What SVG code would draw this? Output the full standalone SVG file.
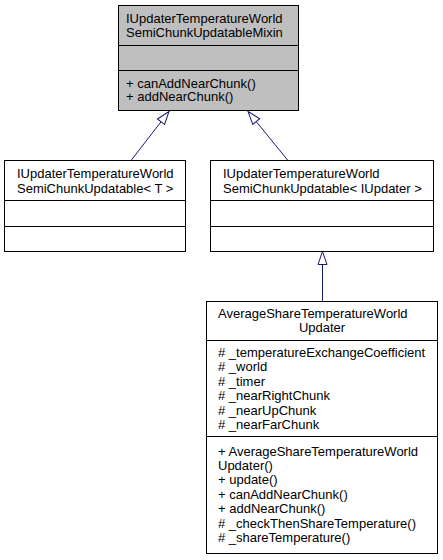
<svg xmlns="http://www.w3.org/2000/svg" width="443" height="560" viewBox="0 0 443 560">
<style>
.box{fill:#ffffff;stroke:#000000;stroke-width:1}
.hl{fill:#bfbfbf}
.div{stroke:#000000;stroke-width:1;fill:none}
text{font-family:"Liberation Sans",Arial,Helvetica,sans-serif;font-size:13px;fill:#000000}
.edge{stroke:#191970;stroke-width:1;fill:none}
</style>
<defs>
<marker id="inh" viewBox="0 0 14 10" refX="13.5" refY="5" markerWidth="14" markerHeight="10" markerUnits="userSpaceOnUse" orient="auto" overflow="visible">
<path d="M0.5,0.5 L13.5,5 L0.5,9.5 Z" fill="#ffffff" stroke="#191970" stroke-width="1"/>
</marker>
</defs>
<rect width="443" height="560" fill="#ffffff"/>
<g id="connectors">
<path class="edge" d="M131,160.5 L169,111.5" marker-end="url(#inh)"/>
<path class="edge" d="M288,160.5 L248,111.5" marker-end="url(#inh)"/>
<path class="edge" d="M322.5,301 L322.5,251.5" marker-end="url(#inh)"/>
</g>
<g id="node-mixin">
<rect class="box hl" x="118.5" y="5.5" width="180" height="105"/>
<line class="div" x1="118.5" y1="45.5" x2="298.5" y2="45.5"/>
<line class="div" x1="118.5" y1="70.5" x2="298.5" y2="70.5"/>
<text x="126" y="22.5">IUpdaterTemperatureWorld</text>
<text x="126" y="36.5">SemiChunkUpdatableMixin</text>
<text x="126" y="87.5">+ canAddNearChunk()</text>
<text x="126" y="101">+ addNearChunk()</text>
</g>
<g id="node-updatable-t">
<rect class="box" x="4.5" y="160.5" width="181" height="91"/>
<line class="div" x1="4.5" y1="200.5" x2="185.5" y2="200.5"/>
<line class="div" x1="4.5" y1="226.5" x2="185.5" y2="226.5"/>
<text x="17" y="178">IUpdaterTemperatureWorld</text>
<text x="17" y="192.5">SemiChunkUpdatable&lt; T &gt;</text>
</g>
<g id="node-updatable-iupdater">
<rect class="box" x="210.5" y="160.5" width="223" height="91"/>
<line class="div" x1="210.5" y1="200.5" x2="433.5" y2="200.5"/>
<line class="div" x1="210.5" y1="226.5" x2="433.5" y2="226.5"/>
<text x="223" y="178">IUpdaterTemperatureWorld</text>
<text x="223" y="192.5">SemiChunkUpdatable&lt; IUpdater &gt;</text>
</g>
<g id="node-average">
<rect class="box" x="206.5" y="301.5" width="231" height="252"/>
<line class="div" x1="206.5" y1="340.5" x2="437.5" y2="340.5"/>
<line class="div" x1="206.5" y1="436.5" x2="437.5" y2="436.5"/>
<text x="218" y="318">AverageShareTemperatureWorld</text>
<text x="322" y="332" text-anchor="middle">Updater</text>
<text x="218" y="357"># _temperatureExchangeCoefficient</text>
<text x="218" y="371.4"># _world</text>
<text x="218" y="385.8"># _timer</text>
<text x="218" y="400.2"># _nearRightChunk</text>
<text x="218" y="414.6"># _nearUpChunk</text>
<text x="218" y="429"># _nearFarChunk</text>
<text x="218" y="455.5">+ AverageShareTemperatureWorld</text>
<text x="218" y="469.9">Updater()</text>
<text x="218" y="484.3">+ update()</text>
<text x="218" y="498.7">+ canAddNearChunk()</text>
<text x="218" y="513.1">+ addNearChunk()</text>
<text x="218" y="527.5"># _checkThenShareTemperature()</text>
<text x="218" y="541.9"># _shareTemperature()</text>
</g>
</svg>
